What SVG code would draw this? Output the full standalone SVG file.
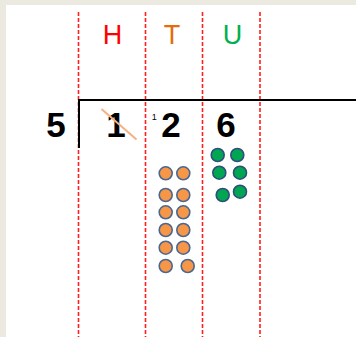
<svg xmlns="http://www.w3.org/2000/svg" width="356" height="337" viewBox="0 0 356 337">
<style>
.guide{stroke:#FF1F1F;stroke-width:1.6;stroke-dasharray:4 2;fill:none}
.hdr{font-family:"Liberation Sans",Arial,sans-serif;font-size:27px;text-anchor:middle}
.dig{font-family:"Liberation Sans",Arial,sans-serif;font-size:35px;font-weight:bold;text-anchor:middle;fill:#000}
.o{fill:#F79646;stroke:#4A6790;stroke-width:1.6}
.g{fill:#00A651;stroke:#2E4F7A;stroke-width:1.6}
</style>
<rect x="0" y="0" width="356" height="337" fill="#ECEAE0"/>
<rect x="6" y="5" width="350" height="332" fill="#FFFFFF"/>
<g id="guides">
<line class="guide" x1="78.5" y1="12" x2="78.5" y2="337"/>
<line class="guide" x1="145.5" y1="12" x2="145.5" y2="337"/>
<line class="guide" x1="202.5" y1="12" x2="202.5" y2="337"/>
<line class="guide" x1="260" y1="12" x2="260" y2="337"/>
</g>
<g id="headers">
<text class="hdr" x="112.5" y="44" fill="#FF0000">H</text>
<text class="hdr" x="172" y="44" fill="#E46C0A">T</text>
<text class="hdr" x="232.5" y="44" fill="#00B050">U</text>
</g>
<g id="bracket">
<line x1="78.5" y1="100" x2="356" y2="100" stroke="#000" stroke-width="2"/>
<line x1="79" y1="99" x2="79" y2="148" stroke="#000" stroke-width="2"/>
</g>
<g id="digits">
<text class="dig" x="56" y="137">5</text>
<text class="dig" x="116" y="137">1</text>
<text class="dig" x="171" y="137">2</text>
<text class="dig" x="226" y="137">6</text>
<text x="154.3" y="119.5" font-family="Liberation Sans,Arial,sans-serif" font-size="9" text-anchor="middle" fill="#000">1</text>
<line x1="101.5" y1="109" x2="136.5" y2="139.5" stroke="#F4B183" stroke-width="2"/>
</g>
<g id="tens">
<circle class="o" cx="165.7" cy="173.3" r="6.5"/><circle class="o" cx="183.3" cy="173.3" r="6.5"/>
<circle class="o" cx="165.7" cy="195" r="6.5"/><circle class="o" cx="183.3" cy="195" r="6.5"/>
<circle class="o" cx="165.7" cy="212.3" r="6.5"/><circle class="o" cx="183.3" cy="212.3" r="6.5"/>
<circle class="o" cx="165.7" cy="230" r="6.5"/><circle class="o" cx="183.3" cy="230" r="6.5"/>
<circle class="o" cx="165.7" cy="247.7" r="6.5"/><circle class="o" cx="183.3" cy="247.7" r="6.5"/>
<circle class="o" cx="165.7" cy="266" r="6.5"/><circle class="o" cx="187.7" cy="266" r="6.5"/>
</g>
<g id="units">
<circle class="g" cx="217.7" cy="155" r="6.5"/><circle class="g" cx="237.3" cy="155" r="6.5"/>
<circle class="g" cx="219.3" cy="172.7" r="6.5"/><circle class="g" cx="240" cy="172.7" r="6.5"/>
<circle class="g" cx="222.7" cy="195" r="6.5"/><circle class="g" cx="240" cy="191.7" r="6.5"/>
</g>
</svg>
